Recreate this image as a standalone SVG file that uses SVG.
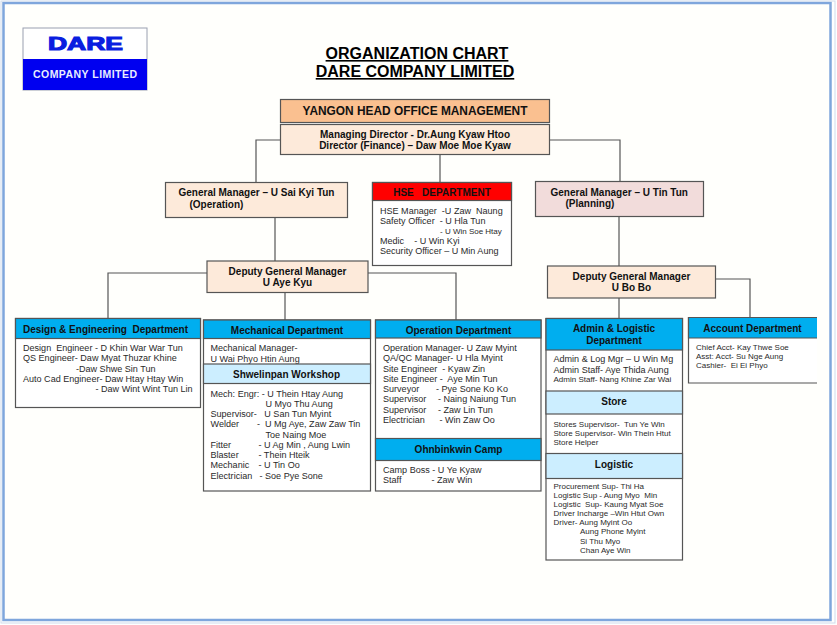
<svg xmlns="http://www.w3.org/2000/svg" width="837" height="625" viewBox="0 0 837 625">
<style>
text{font-family:"Liberation Sans",Arial,sans-serif;fill:#1c1c1c;white-space:pre}
.b{font-weight:bold}.m{text-anchor:middle}
.t{font-size:16px;font-weight:bold;fill:#000;text-anchor:middle;text-decoration:underline}
.h{font-size:10px;font-weight:bold;fill:#111}
.s{font-size:9.05px;fill:#2a2a2a}.x{font-size:8px;fill:#2a2a2a}
.box{stroke:#555;stroke-width:1.2}
.cy{fill:#00aeef}.lb{fill:#cceeff}.pe{fill:#fdeada}.w{fill:#fff}
#connectors path{fill:none;stroke:#555;stroke-width:1.2}
</style>
<rect width="837" height="625" fill="#fff"/>
<rect x="3.5" y="3" width="827" height="617" fill="#fffffc" stroke="#7fa6dc" stroke-width="2.5"/>
<rect x="1" y="1" width="834" height="622" fill="none" stroke="#cfdcec" stroke-width="1"/>

<g id="logo">
<rect x="23" y="28" width="124" height="62" fill="#fff" stroke="#9aa0b0"/>
<rect x="23" y="59" width="124" height="31" fill="#0000f0"/>
<text x="85.500" y="50" class="b m" style="font-size:18px;fill:#0a1ee0;stroke:#0a1ee0;stroke-width:1.100px" textLength="75" lengthAdjust="spacingAndGlyphs">DARE</text>
<text x="85" y="78" class="b m" style="font-size:10.500px;fill:#e8ecff" textLength="104" lengthAdjust="spacing">COMPANY LIMITED</text>
</g>
<g id="title">
<text x="417" y="59" class="t">ORGANIZATION CHART</text>
<text x="415" y="77" class="t">DARE COMPANY LIMITED</text>
</g>

<g id="connectors">
<path d="M280 140H256V182"/>
<path d="M550 140H620V181"/>
<path d="M440 154V182"/>
<path d="M275 217V261"/>
<path d="M619 216V266"/>
<path d="M207 273H108V318"/>
<path d="M285 292V320"/>
<path d="M368 273H456V320"/>
<path d="M716 279H750V317"/>
<path d="M619 298V318"/>
</g>

<g id="head-office">
<rect class="box" x="280.500" y="99.500" width="269" height="23" fill="#fac090"/>
<text x="415" y="114.500" class="b m" style="font-size:11.900px;fill:#111">YANGON HEAD OFFICE MANAGEMENT</text>
</g>
<g id="managing-director">
<rect class="box pe" x="280.500" y="124.500" width="269" height="30"/>
<text x="415" y="137.500" class="h m">Managing Director - Dr.Aung Kyaw Htoo</text>
<text x="415" y="149" class="h m">Director (Finance) – Daw Moe Moe Kyaw</text>
</g>
<g id="gm-operation">
<rect class="box pe" x="165.500" y="182.500" width="182" height="35"/>
<text x="178.500" y="196" class="h">General Manager – U Sai Kyi Tun</text>
<text x="189.500" y="207.500" class="h">(Operation)</text>
</g>
<g id="hse">
<rect class="box w" x="372.500" y="182.500" width="139" height="83"/>
<rect class="box" x="372.500" y="182.500" width="139" height="18" fill="#ff0000"/>
<text x="442" y="196" class="h m">HSE   DEPARTMENT</text>
<text x="380" y="213.500" class="s">HSE Manager  -U Zaw  Naung</text>
<text x="380" y="224" class="s">Safety Officer  - U Hla Tun</text>
<text x="440" y="233.500" class="x">- U Win Soe Htay</text>
<text x="380" y="243.500" class="s">Medic    - U Win Kyi</text>
<text x="380" y="254" class="s">Security Officer – U Min Aung</text>
</g>
<g id="gm-planning">
<rect class="box" x="535.500" y="181.500" width="168" height="35" fill="#f2dcdb"/>
<text x="550.500" y="195.500" class="h">General Manager – U Tin Tun</text>
<text x="565.500" y="207" class="h">(Planning)</text>
</g>
<g id="dgm-aye-kyu">
<rect class="box pe" x="207" y="261" width="161" height="31.500"/>
<text x="287.500" y="274.500" class="h m">Deputy General Manager</text>
<text x="287.500" y="286" class="h m">U Aye Kyu</text>
</g>
<g id="dgm-bo-bo">
<rect class="box pe" x="547.500" y="266" width="168" height="32"/>
<text x="631.500" y="279.500" class="h m">Deputy General Manager</text>
<text x="631.500" y="291" class="h m">U Bo Bo</text>
</g>

<g id="design-engineering">
<rect class="box w" x="15.500" y="318.500" width="185" height="89"/>
<rect class="box cy" x="15.500" y="318.500" width="185" height="20"/>
<text x="23" y="332.500" class="h">Design &amp; Engineering  Department</text>
<text x="23" y="351" class="s">Design  Engineer - D Khin War War Tun</text>
<text x="23" y="361" class="s">QS Engineer- Daw Myat Thuzar Khine</text>
<text x="76" y="371.500" class="s">-Daw Shwe Sin Tun</text>
<text x="23" y="381.500" class="s">Auto Cad Engineer- Daw Htay Htay Win</text>
<text x="95.500" y="392" class="s">- Daw Wint Wint Tun Lin</text>
</g>
<g id="mechanical">
<rect class="box w" x="203.500" y="320" width="167" height="171"/>
<rect class="box cy" x="203.500" y="320" width="167" height="18.500"/>
<text x="287" y="333.500" class="h m">Mechanical Department</text>
<text x="210.500" y="351" class="s">Mechanical Manager-</text>
<text x="210.500" y="361.500" class="s">U Wai Phyo Htin Aung</text>
<rect class="box lb" x="203.500" y="364" width="167" height="19.500"/>
<text x="286.500" y="378" class="h m">Shwelinpan Workshop</text>
<text x="210.500" y="396.500" class="s">Mech: Engr: - U Thein Htay Aung</text>
<text x="265.500" y="406.500" class="s">U Myo Thu Aung</text>
<text x="210.500" y="417" class="s">Supervisor-   U San Tun Myint</text>
<text x="210.500" y="427" class="s">Welder</text><text x="257" y="427" class="s">-  U Mg Aye, Zaw Zaw Tin</text>
<text x="265.500" y="437.500" class="s">Toe Naing Moe</text>
<text x="210.500" y="447.500" class="s">Fitter</text><text x="258.500" y="447.500" class="s">- U Ag Min , Aung Lwin</text>
<text x="210.500" y="458" class="s">Blaster</text><text x="258.500" y="458" class="s">- Thein Hteik</text>
<text x="210.500" y="468" class="s">Mechanic</text><text x="258.500" y="468" class="s">- U Tin Oo</text>
<text x="210.500" y="478.500" class="s">Electrician</text><text x="259.500" y="478.500" class="s">- Soe Pye Sone</text>
</g>
<g id="operation">
<rect class="box w" x="375.500" y="320" width="165.500" height="171"/>
<rect class="box cy" x="375.500" y="320" width="165.500" height="18"/>
<text x="458.500" y="333.500" class="h m">Operation Department</text>
<text x="383" y="351" class="s">Operation Manager- U Zaw Myint</text>
<text x="383" y="361" class="s">QA/QC Manager- U Hla Myint</text>
<text x="383" y="371.500" class="s">Site Engineer  - Kyaw Zin</text>
<text x="383" y="381.500" class="s">Site Engineer -  Aye Min Tun</text>
<text x="383" y="392" class="s">Surveyor</text><text x="436" y="392" class="s">- Pye Sone Ko Ko</text>
<text x="383" y="402" class="s">Supervisor</text><text x="438" y="402" class="s">- Naing Naiung Tun</text>
<text x="383" y="412.500" class="s">Supervisor</text><text x="438" y="412.500" class="s">- Zaw Lin Tun</text>
<text x="383" y="423" class="s">Electrician</text><text x="439.500" y="423" class="s">- Win Zaw Oo</text>
<rect class="box cy" x="375.500" y="438.500" width="165.500" height="22"/>
<text x="458.500" y="452.500" class="h m">Ohnbinkwin Camp</text>
<text x="383" y="473" class="s">Camp Boss - U Ye Kyaw</text>
<text x="383" y="483" class="s">Staff</text><text x="431.500" y="483" class="s">- Zaw Win</text>
</g>
<g id="admin-logistic">
<rect class="box w" x="546" y="318.500" width="136.500" height="241.500"/>
<rect class="box cy" x="546" y="318.500" width="136.500" height="31.500"/>
<text x="614" y="332" class="h m">Admin &amp; Logistic</text>
<text x="614" y="344" class="h m">Department</text>
<text x="553.500" y="362" class="s">Admin &amp; Log Mgr – U Win Mg</text>
<text x="553.500" y="372.500" class="s">Admin Staff- Aye Thida Aung</text>
<text x="553.500" y="382" class="x">Admin Staff- Nang Khine Zar Wai</text>
<rect class="box lb" x="546" y="391" width="136.500" height="23"/>
<text x="614" y="405" class="h m">Store</text>
<text x="553.500" y="426.500" class="x">Stores Supervisor-  Tun Ye Win</text>
<text x="553.500" y="435.500" class="x">Store Supervisor- Win Thein Htut</text>
<text x="553.500" y="444.500" class="x">Store Helper</text>
<rect class="box lb" x="546" y="453.500" width="136.500" height="25"/>
<text x="614" y="467.500" class="h m">Logistic</text>
<text x="553.500" y="488.500" class="x">Procurement Sup- Thi Ha</text>
<text x="553.500" y="497.500" class="x">Logistic Sup - Aung Myo  Min</text>
<text x="553.500" y="506.500" class="x">Logistic  Sup- Kaung Myat Soe</text>
<text x="553.500" y="516" class="x">Driver Incharge –Win Htut Own</text>
<text x="553.500" y="525" class="x">Driver- Aung Myint Oo</text>
<text x="580" y="534" class="x">Aung Phone Myint</text>
<text x="580" y="543.500" class="x">Si Thu Myo</text>
<text x="580" y="552.500" class="x">Chan Aye Win</text>
</g>
<g id="account">
<path d="M817 383H688.500V317.500H817" class="box w"/>
<path d="M817 338H688.500V317.500H817Z" fill="#00aeef"/>
<path d="M817 338H688.500V317.500H817" fill="none" stroke="#555" stroke-width="1.200"/>
<text x="752.500" y="332" class="h m">Account Department</text>
<text x="696" y="350" class="x">Chief Acct- Kay Thwe Soe</text>
<text x="696" y="359" class="x">Asst: Acct- Su Nge Aung</text>
<text x="696" y="368" class="x">Cashier-  Ei Ei Phyo</text>
</g>
</svg>
